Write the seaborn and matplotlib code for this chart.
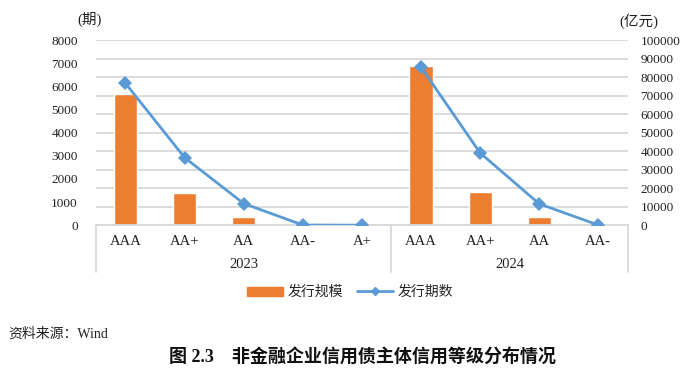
import matplotlib
matplotlib.use("Agg")
import matplotlib.pyplot as plt
import matplotlib.patches as mpatches
import matplotlib.lines as mlines
import matplotlib.transforms as mtransforms
import seaborn as sns
import pandas as pd
import numpy as np

# ---- data ----
years = ["2023", "2024"]
ratings_2023 = ["AAA", "AA+", "AA", "AA-", "A+"]
ratings_2024 = ["AAA", "AA+", "AA", "AA-"]
scale_2023 = [71000, 17400, 4300, 0, 0]        # 发行规模 (亿元)
scale_2024 = [86000, 18000, 4150, 0]
count_2023 = [6130, 2920, 935, 5, 0]           # 发行期数 (期)
count_2024 = [6830, 3120, 920, 5]

rows = []
pos = 0
for yr, rts, sc, ct in [(years[0], ratings_2023, scale_2023, count_2023),
                        (years[1], ratings_2024, scale_2024, count_2024)]:
    for r, s, c in zip(rts, sc, ct):
        rows.append(dict(year=yr, rating=r, pos=pos, scale=s, count=c))
        pos += 1
df = pd.DataFrame(rows)

sns.set_style("white")
plt.rcParams["font.family"] = ["Liberation Serif", "Noto Sans CJK SC", "DejaVu Sans"]

ORANGE = "#ED7D31"
BLUE = "#5B9BD5"
GRID = "#D9D9D9"

fig = plt.figure(figsize=(7.0, 3.74), dpi=100)
ax = fig.add_axes([0.137, 0.398, 0.76, 0.495])

# bars on primary axis (亿元, ticks on right)
sns.barplot(data=df, x="pos", y="scale", color=ORANGE, width=0.39,
            saturation=1, ax=ax, errorbar=None)
ax.set_ylim(0, 100000)
ax.set_yticks(np.arange(0, 100001, 10000))
ax.yaxis.grid(True, color=GRID, linewidth=1.3)
ax.set_axisbelow(True)
ax.set_xlim(-0.5, len(df) - 0.5)
ax.set_xticks(df["pos"])
ax.set_xticklabels(df["rating"], fontsize=10.5, color="#222222")
ax.tick_params(axis="x", length=0, pad=7)
ax.set_xlabel("")
ax.set_ylabel("")
for s in ["left", "right", "top"]:
    ax.spines[s].set_visible(False)
ax.spines["bottom"].set_color(GRID)
ax.spines["bottom"].set_linewidth(1.3)

# line on twin axis (期, ticks on left)
ax2 = ax.twinx()
sns.lineplot(data=df, x="pos", y="count", units="year", estimator=None,
             color=BLUE, marker="D", markersize=7, markeredgewidth=0,
             linewidth=2, ax=ax2, legend=False)
ax2.set_ylim(0, 8000)
ax2.set_yticks(np.arange(0, 8001, 1000))
ax2.set_xlim(-0.5, len(df) - 0.5)
ax2.set_xlabel("")
ax2.set_ylabel("")
for s in ["left", "right", "top", "bottom"]:
    ax2.spines[s].set_visible(False)

# put the tick labels on the proper sides (after twinx)
ax.yaxis.tick_right()
ax.tick_params(axis="y", which="both", left=False, labelleft=False,
               right=False, labelright=True, length=0, pad=9,
               labelsize=9.5, labelcolor="#222222")
for lab in ax.get_yticklabels():
    lab.set_horizontalalignment("left")
ax2.yaxis.tick_left()
ax2.tick_params(axis="y", which="both", right=False, labelright=False,
                left=False, labelleft=True, length=0, pad=13,
                labelsize=9.5, labelcolor="#222222")

# group separators and year labels
trans = mtransforms.blended_transform_factory(ax.transData, ax.transAxes)
bounds = [-0.5]
for yr in years:
    g = df[df["year"] == yr]
    bounds.append(g["pos"].max() + 0.5)
    ax.text(g["pos"].mean(), -0.21, yr, transform=trans, ha="center", va="center",
            fontsize=10.5, color="#222222")
for b in bounds:
    ax.plot([b, b], [0, -0.255], transform=trans, color=GRID, linewidth=1.3,
            clip_on=False)

# unit labels
fig.text(90 / 700, 1 - 19.5 / 374, "(期)", ha="center", va="center",
         fontsize=10.5, color="#222222")
fig.text(639 / 700, 1 - 21 / 374, "(亿元)", ha="center", va="center",
         fontsize=10.5, color="#222222")

# legend
h_bar = mpatches.Patch(color=ORANGE, label="发行规模")
h_line = mlines.Line2D([], [], color=BLUE, marker="D", markersize=4,
                       linewidth=2, label="发行期数")
fig.legend(handles=[h_bar, h_line], loc="center", bbox_to_anchor=(350 / 700, 1 - 292 / 374),
           ncol=2, frameon=False, handlelength=2.6, handleheight=0.6,
           columnspacing=1.0, handletextpad=0.3,
           prop={"family": ["Noto Sans CJK SC"], "size": 10})

# source & caption
fig.text(8 / 700, 1 - 334 / 374, "资料来源：Wind", ha="left", va="center",
         fontsize=10, color="#222222")
fig.text(362 / 700, 1 - 357 / 374, "图 2.3    非金融企业信用债主体信用等级分布情况",
         ha="center", va="center", fontsize=13, fontweight="bold", color="#111111")

fig.savefig("out.png", dpi=100)
